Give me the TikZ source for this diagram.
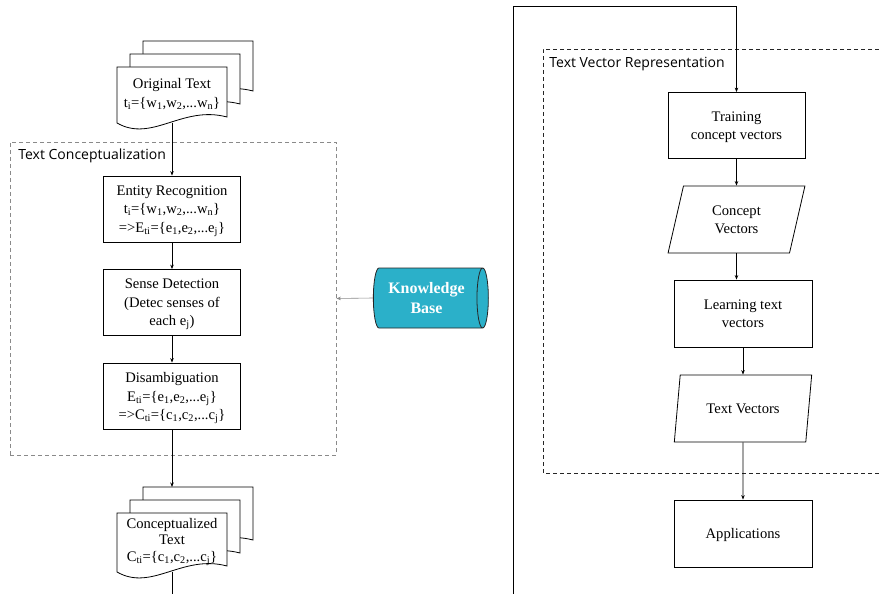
\documentclass[tikz,border=0pt]{standalone}
\usepackage{fontspec}
\setmainfont{Liberation Serif}
\newfontfamily\labelfont{Open Sans}
\usetikzlibrary{arrows.meta,shapes.geometric,positioning}

\definecolor{kbteal}{HTML}{2BB0C9}
\definecolor{boxgrey}{HTML}{8A8A8A}

\newcommand{\bodyfont}{\fontsize{14.6}{18.5}\selectfont}
\newcommand{\docsheet}[3]{%
  \begin{scope}[shift={(#1,#2)}]
  \path[draw,fill=white] (0,0) -- (110,0) -- (110,#3-6) .. controls (65,#3-18) and (35,#3+20) .. (0,#3) -- cycle;
  \end{scope}}

\tikzset{
  procbox/.style={draw, minimum width=137pt, minimum height=66pt, align=center, font=\bodyfont, text depth=-5pt},
  databox/.style={draw, trapezium, trapezium left angle=77, trapezium right angle=103,
    trapezium stretches=true, minimum width=137pt, minimum height=67pt, align=center, font=\bodyfont, text depth=-4pt},
  doctext/.style={align=center, font=\bodyfont},
  groupbox/.style={draw, dash pattern=on 4pt off 3pt},
  grouplabel/.style={anchor=base west, inner sep=0pt, font=\labelfont\fontsize{14}{16}\selectfont},
  kbnode/.style={draw=black!85, cylinder, shape border rotate=0, aspect=0.3, fill=kbteal,
    minimum width=60pt, minimum height=115pt, align=center, text=white,
    font=\bfseries\fontsize{16}{20}\selectfont},
  >={Stealth[length=4.5pt,width=3.5pt]}
}

\begin{document}
\begin{tikzpicture}[x=1pt,y=-1pt,line width=0.8pt]
\useasboundingbox (0,0) rectangle (879,594);

\node[groupbox, draw=boxgrey, minimum width=326pt, minimum height=313pt] (concbox) at (173,298.5) {};
\node[grouplabel] (conclabel) at (18,159) {Text Conceptualization};

\docsheet{143}{41}{56}
\docsheet{130}{54}{56}
\docsheet{117}{67}{56}
\node[doctext] (orig) at (172,94) {Original Text\\t\textsubscript{i}=\{w\textsubscript{1},w\textsubscript{2},...w\textsubscript{n}\}};
\coordinate (origout) at (172,122.5);

\node[procbox] (entity) at (172,209) {Entity Recognition\\t\textsubscript{i}=\{w\textsubscript{1},w\textsubscript{2},...w\textsubscript{n}\}\\=>E\textsubscript{ti}=\{e\textsubscript{1},e\textsubscript{2},...e\textsubscript{j}\}};
\node[procbox] (sense) at (172,302.5) {Sense Detection\\(Detec senses of\\each e\textsubscript{j})};
\node[procbox] (disamb) at (172,396) {Disambiguation\\E\textsubscript{ti}=\{e\textsubscript{1},e\textsubscript{2},...e\textsubscript{j}\}\\=>C\textsubscript{ti}=\{c\textsubscript{1},c\textsubscript{2},...c\textsubscript{j}\}};

\docsheet{143}{487}{59}
\docsheet{130}{500}{59}
\docsheet{117}{513}{59}
\node[doctext, font=\fontsize{14.6}{16.8}\selectfont] (conc) at (172,542) {Conceptualized\\Text\\C\textsubscript{ti}=\{c\textsubscript{1},c\textsubscript{2},...c\textsubscript{j}\}};
\coordinate (conctop) at (172,487);
\coordinate (concout) at (172,571.5);
\coordinate (concend) at (172,594);

\path[draw,->] (origout) -- (entity);
\path[draw,->] (entity) -- (sense);
\path[draw,->] (sense) -- (disamb);
\path[draw,->] (disamb) -- (conctop);
\path[draw] (concout) -- (concend);

\node[kbnode] (kb) at (426.5,298) {Knowledge\\Base};
\path[draw,->,boxgrey,line width=0.6pt] (kb.west) -- (concbox.east);

\path[groupbox, draw=black!85] (879,49) -- (543,49) -- (543,473) -- (879,473);
\node[grouplabel] (veclabel) at (549,67) {Text Vector Representation};

\node[procbox] (train) at (736.5,125.5) {Training\\concept vectors};
\node[databox] (cvec) at (736.5,219.5) {Concept\\Vectors};
\node[procbox, minimum width=138pt, minimum height=67pt] (learn) at (743,313.5) {Learning text\\vectors};
\node[databox, minimum width=138pt] (tvec) at (743,408.5) {Text Vectors};
\node[procbox, minimum width=138pt, minimum height=67pt] (apps) at (743,533.5) {Applications};

\coordinate (framestart) at (513,594);
\coordinate (frametop) at (513,6);
\path[draw,->] (framestart) -- (frametop) -| (train.north);
\path[draw,->] (train) -- (cvec);
\path[draw,->] (cvec.south) -- (cvec.south |- learn.north);
\path[draw,->] (learn) -- (tvec);
\path[draw,->] (tvec) -- (apps);
\end{tikzpicture}
\end{document}
